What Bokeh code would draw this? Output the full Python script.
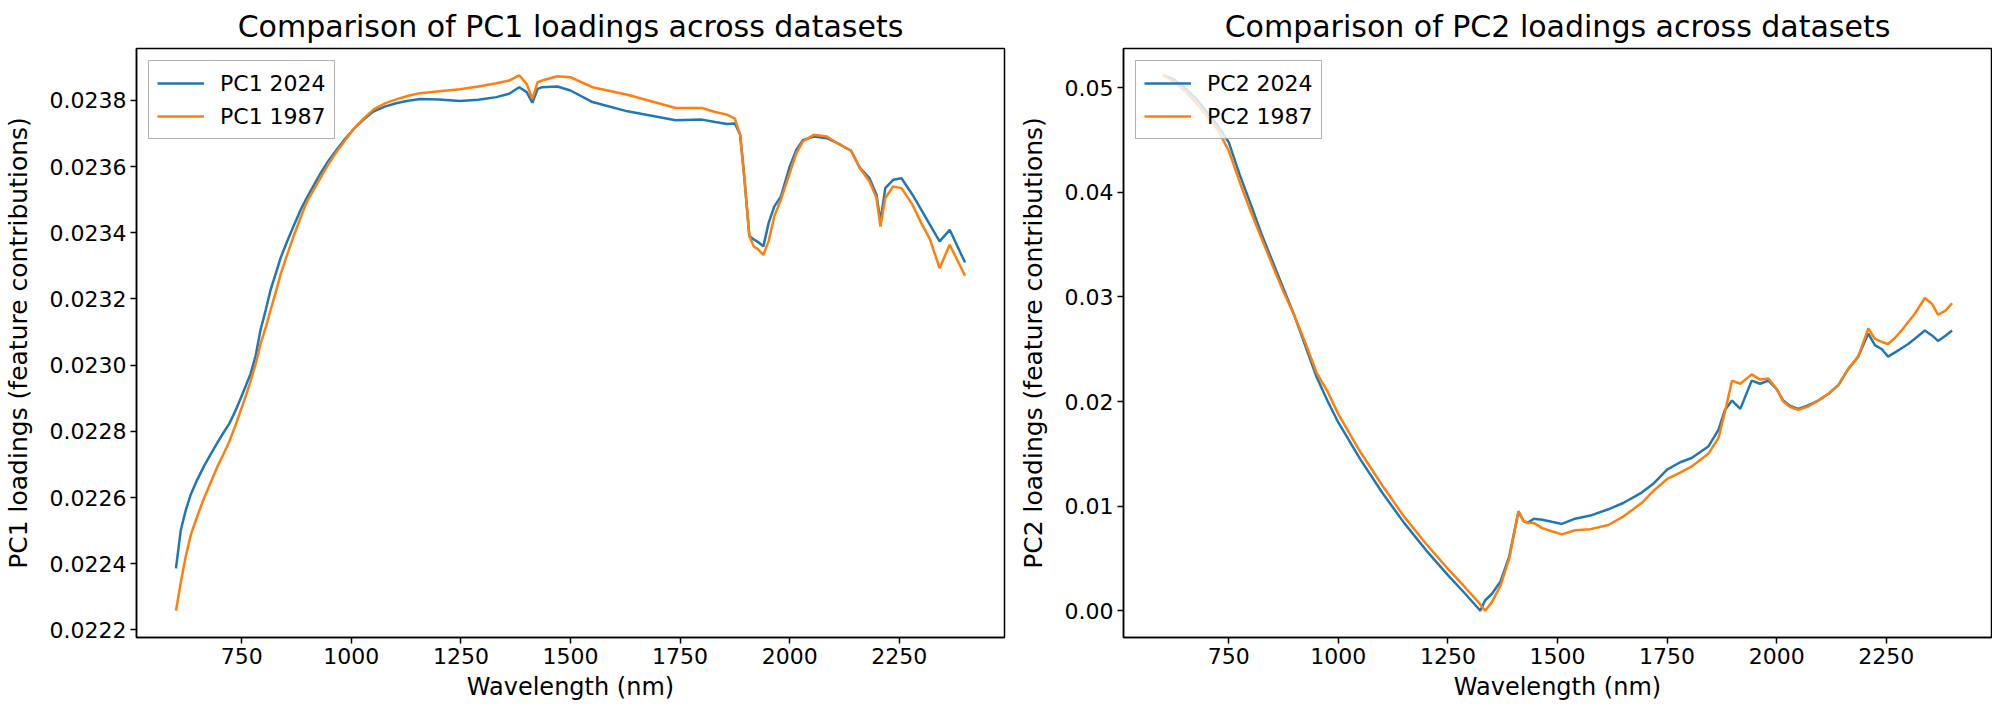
from bokeh.plotting import figure
from bokeh.layouts import row
from bokeh.models import Range1d, Legend, LegendItem, FixedTicker, PrintfTickFormatter
from bokeh.embed import file_html
from bokeh.resources import INLINE

# ---------------- data ----------------
wl_pc1 = [600, 611, 622, 634, 649, 664, 680, 695, 708, 721, 735, 748, 760, 770, 782, 793,
          805, 816, 828, 839, 854, 869, 884, 899, 915, 930, 948, 967, 986, 1005, 1028,
          1051, 1078, 1104, 1130, 1157, 1200, 1248, 1290, 1331, 1360, 1383, 1400,
          1413, 1425, 1435, 1470, 1500, 1550, 1630, 1740, 1800, 1830, 1857, 1875,
          1887, 1897, 1908, 1918, 1928, 1940, 1952, 1965, 1980, 2000, 2015, 2030,
          2055, 2085, 2110, 2140, 2160, 2182, 2198, 2207, 2218, 2236, 2255, 2280,
          2300, 2320, 2342, 2365, 2400]
pc1_2024 = [0.022386, 0.022501, 0.022560, 0.022610, 0.022655, 0.022695, 0.022733, 0.022767,
            0.022795, 0.022822, 0.022860, 0.022901, 0.022940, 0.022973, 0.023030, 0.023107,
            0.023168, 0.023228, 0.023278, 0.023325, 0.023375, 0.023422, 0.023468, 0.023507,
            0.023545, 0.023580, 0.023618, 0.023652, 0.023684, 0.023713, 0.023742, 0.023767,
            0.023782, 0.023792, 0.023799, 0.023804, 0.023803, 0.023798, 0.023802, 0.023810,
            0.023820, 0.023840, 0.023825, 0.023793, 0.023835, 0.023840, 0.023842,
            0.023830, 0.023795, 0.023767, 0.023740, 0.023742, 0.023735, 0.023729, 0.023730,
            0.023696, 0.023560, 0.023390, 0.023380, 0.023372, 0.023359, 0.023430, 0.023480,
            0.023510, 0.023600, 0.023650, 0.023680, 0.023691, 0.023686, 0.023670, 0.023648,
            0.023596, 0.023565, 0.023515, 0.023434, 0.023535, 0.023560, 0.023565, 0.023515,
            0.023470, 0.023424, 0.023374, 0.023409, 0.023310]
pc1_1987 = [0.022258, 0.022343, 0.022420, 0.022488, 0.022545, 0.022598, 0.022648, 0.022695,
            0.022730, 0.022767, 0.022815, 0.022864, 0.022910, 0.022950, 0.023005, 0.023064,
            0.023115, 0.023167, 0.023222, 0.023276, 0.023335, 0.023392, 0.023445, 0.023495,
            0.023532, 0.023567, 0.023608, 0.023646, 0.023680, 0.023713, 0.023745, 0.023773,
            0.023792, 0.023804, 0.023814, 0.023822, 0.023828, 0.023834, 0.023842, 0.023852,
            0.023860, 0.023876, 0.023850, 0.023805, 0.023855, 0.023860, 0.023873,
            0.023870, 0.023840, 0.023817, 0.023777, 0.023777, 0.023765, 0.023757, 0.023745,
            0.023696, 0.023560, 0.023390, 0.023359, 0.023350, 0.023333, 0.023375, 0.023450,
            0.023500, 0.023580, 0.023640, 0.023676, 0.023696, 0.023691, 0.023670, 0.023648,
            0.023596, 0.023555, 0.023505, 0.023419, 0.023505, 0.023540, 0.023535, 0.023485,
            0.023430, 0.023380, 0.023293, 0.023364, 0.023270]

wl_pc2 = [600, 625, 650, 675, 700, 725, 750, 775, 800, 825, 850, 875, 900, 925, 950, 975,
          1000, 1050, 1100, 1150, 1200, 1250, 1290, 1324, 1335, 1350, 1370, 1390, 1411,
          1422, 1432, 1446, 1465, 1487, 1510, 1540, 1575, 1616, 1650, 1692, 1720, 1750,
          1780, 1806, 1844, 1867, 1882, 1898, 1917, 1943, 1962, 1981, 2000, 2015, 2030,
          2049, 2070, 2095, 2120, 2141, 2163, 2186, 2209, 2224, 2240, 2254, 2270, 2285,
          2300, 2315, 2338, 2355, 2368, 2385, 2400]
pc2_2024 = [0.0512, 0.0508, 0.0500, 0.0490, 0.0477, 0.0464, 0.0448, 0.0417, 0.0389, 0.0360,
            0.0334, 0.0308, 0.0282, 0.0253, 0.0224, 0.0201, 0.0180, 0.0145, 0.0113, 0.0084,
            0.0058, 0.0034, 0.0016, 0.0000, 0.0010, 0.0016, 0.0028, 0.0052, 0.0095, 0.0086,
            0.0084, 0.0088, 0.0087, 0.0085, 0.0083, 0.0088, 0.0091, 0.0097, 0.0103, 0.0113,
            0.0122, 0.0135, 0.0142, 0.0146, 0.0157, 0.0173, 0.0192, 0.0201, 0.0193, 0.0220,
            0.0217, 0.0220, 0.0212, 0.0201, 0.0196, 0.0193, 0.0196, 0.0201, 0.0208, 0.0216,
            0.0231, 0.0243, 0.0265, 0.0254, 0.0250, 0.0243, 0.0247, 0.0251, 0.0255, 0.0260,
            0.0268, 0.0263, 0.0258, 0.0263, 0.0268]
pc2_1987 = [0.0512, 0.0506, 0.0497, 0.0486, 0.0473, 0.0460, 0.0440, 0.0410, 0.0382, 0.0356,
            0.0330, 0.0305, 0.0282, 0.0256, 0.0228, 0.0210, 0.0188, 0.0152, 0.0120, 0.0090,
            0.0064, 0.0040, 0.0022, 0.0006, 0.0000, 0.0008, 0.0024, 0.0050, 0.0095, 0.0086,
            0.0084, 0.0084, 0.0079, 0.0076, 0.0073, 0.0077, 0.0078, 0.0082, 0.0090, 0.0103,
            0.0115, 0.0126, 0.0132, 0.0138, 0.0150, 0.0165, 0.0190, 0.0220, 0.0217, 0.0226,
            0.0221, 0.0222, 0.0212, 0.0200, 0.0195, 0.0192, 0.0195, 0.0201, 0.0208, 0.0216,
            0.0231, 0.0243, 0.0270, 0.0260, 0.0257, 0.0255, 0.0261, 0.0268, 0.0276, 0.0284,
            0.0299, 0.0293, 0.0283, 0.0287, 0.0294]

x_ticks = [750, 1000, 1250, 1500, 1750, 2000, 2250]
pc1_ticks = [0.0222, 0.0224, 0.0226, 0.0228, 0.0230, 0.0232, 0.0234, 0.0236, 0.0238]
pc2_ticks = [0.00, 0.01, 0.02, 0.03, 0.04, 0.05]

titles = ["Comparison of PC1 loadings across datasets",
          "Comparison of PC2 loadings across datasets"]
ylabels = ["PC1 loadings (feature contributions)",
           "PC2 loadings (feature contributions)"]
xlabel = "Wavelength (nm)"
legend_pc1 = ["PC1 2024", "PC1 1987"]
legend_pc2 = ["PC2 2024", "PC2 1987"]

# ---------------- styling ----------------
FONT = "DejaVu Sans"
BLUE = "#1f77b4"
ORANGE = "#ff7f0e"
HEIGHT = 707


def padded(vals, frac=0.05):
    lo, hi = min(vals), max(vals)
    pad = (hi - lo) * frac
    return Range1d(lo - pad, hi + pad)


def make(title, ylabel, wl, s_new, s_old, names, yticks, fmt, width, left, right):
    p = figure(width=width, height=HEIGHT, output_backend="svg", toolbar_location=None,
               x_range=padded(wl), y_range=padded(s_new + s_old),
               min_border_left=left, min_border_right=right,
               min_border_top=48, min_border_bottom=70)
    p.title.text = title
    p.title.align = "center"
    p.title.text_font = FONT
    p.title.text_font_size = "30px"
    p.title.text_font_style = "normal"
    p.title.text_color = "black"
    p.title.standoff = 10

    r1 = p.line(wl, s_new, line_color=BLUE, line_width=2.5)
    r2 = p.line(wl, s_old, line_color=ORANGE, line_width=2.5)

    p.xgrid.grid_line_color = None
    p.ygrid.grid_line_color = None
    p.outline_line_color = "black"
    p.outline_line_width = 1.5
    p.background_fill_color = "white"
    p.border_fill_color = "white"

    for ax in (p.xaxis[0], p.yaxis[0]):
        ax.axis_line_color = "black"
        ax.axis_line_width = 1.5
        ax.major_tick_line_color = "black"
        ax.major_tick_line_width = 1.5
        ax.major_tick_out = 6
        ax.major_tick_in = 0
        ax.minor_tick_line_color = None
        ax.major_label_text_font = FONT
        ax.major_label_text_font_size = "22px"
        ax.major_label_text_color = "black"
        ax.major_label_standoff = 4
        ax.axis_label_text_font = FONT
        ax.axis_label_text_font_style = "normal"
        ax.axis_label_text_color = "black"

    p.xaxis[0].ticker = FixedTicker(ticks=x_ticks)
    p.xaxis[0].axis_label = xlabel
    p.xaxis[0].axis_label_text_font_size = "24px"
    p.xaxis[0].axis_label_standoff = 6
    p.yaxis[0].ticker = FixedTicker(ticks=yticks)
    p.yaxis[0].formatter = PrintfTickFormatter(format=fmt)
    p.yaxis[0].axis_label = ylabel
    p.yaxis[0].axis_label_text_font_size = "25px"
    p.yaxis[0].axis_label_standoff = 14

    legend = Legend(items=[LegendItem(label=names[0], renderers=[r1]),
                           LegendItem(label=names[1], renderers=[r2])],
                    location="top_left")
    legend.margin = 12
    legend.padding = 8
    legend.spacing = 5
    legend.label_height = 28
    legend.glyph_height = 28
    legend.glyph_width = 47
    legend.label_standoff = 16
    legend.label_text_font = FONT
    legend.label_text_font_size = "22px"
    legend.label_text_color = "black"
    legend.border_line_color = "#666666"
    legend.border_line_width = 1.5
    legend.background_fill_alpha = 0.8
    p.add_layout(legend)
    return p


p1 = make(titles[0], ylabels[0], wl_pc1, pc1_2024, pc1_1987, legend_pc1, pc1_ticks, "%.4f",
          width=1015, left=133, right=11)
p2 = make(titles[1], ylabels[1], wl_pc2, pc2_2024, pc2_1987, legend_pc2, pc2_ticks, "%.2f",
          width=977, left=108, right=1)

layout = row(p1, p2)
open("out.html", "w").write(file_html(layout, INLINE))
